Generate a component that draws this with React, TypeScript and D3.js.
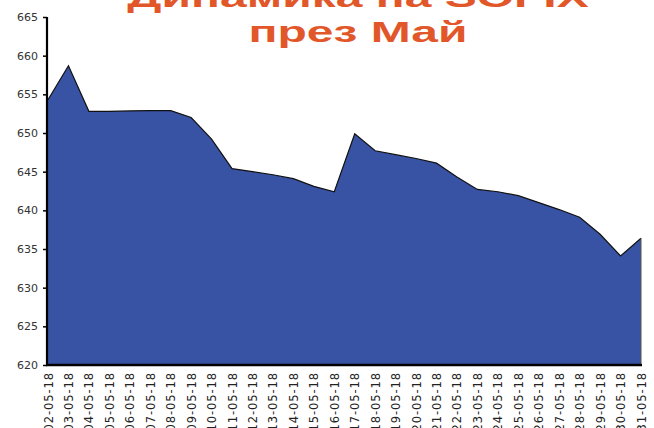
import React, { useEffect, useRef } from 'react';
import * as d3 from 'd3';

const dates = [
  '02-05-18', '03-05-18', '04-05-18', '05-05-18', '06-05-18', '07-05-18',
  '08-05-18', '09-05-18', '10-05-18', '11-05-18', '12-05-18', '13-05-18',
  '14-05-18', '15-05-18', '16-05-18', '17-05-18', '18-05-18', '19-05-18',
  '20-05-18', '21-05-18', '22-05-18', '23-05-18', '24-05-18', '25-05-18',
  '26-05-18', '27-05-18', '28-05-18', '29-05-18', '30-05-18', '31-05-18'
];

const sofix = [
  654.3, 658.7, 652.8, 652.8, 652.85, 652.9,
  652.9, 652.0, 649.2, 645.4, 645.0, 644.6,
  644.1, 643.1, 642.4, 649.9, 647.7, 647.2,
  646.7, 646.1, 644.3, 642.7, 642.4, 641.9,
  641.0, 640.1, 639.1, 636.9, 634.1, 636.4
];

const yTicks = [620, 625, 630, 635, 640, 645, 650, 655, 660, 665];

const titleLines = ['Динамика на SOFIX', 'през Май'];

export default function App() {
  const ref = useRef<SVGSVGElement>(null);

  useEffect(() => {
    const width = 654;
    const height = 428;
    const left = 48, right = 641, top = 17, bottom = 365;

    const svg = d3.select(ref.current);
    svg.selectAll('*').remove();
    svg.attr('width', width).attr('height', height);

    const x = d3.scalePoint<string>().domain(dates).range([left, right]).padding(0);
    const y = d3.scaleLinear().domain([620, 665]).range([bottom, top]);

    const rows = dates.map((d, i) => ({ d, v: sofix[i] }));

    // area
    const area = d3.area<{ d: string; v: number }>()
      .x(r => x(r.d) as number)
      .y0(y(620))
      .y1(r => y(r.v));

    svg.append('path')
      .datum(rows)
      .attr('d', area)
      .attr('fill', '#3953A4');

    const line = d3.line<{ d: string; v: number }>()
      .x(r => x(r.d) as number)
      .y(r => y(r.v));

    svg.append('path')
      .datum(rows)
      .attr('d', line)
      .attr('fill', 'none')
      .attr('stroke', '#111')
      .attr('stroke-width', 1.2);

    // right edge of the area
    svg.append('line')
      .attr('x1', x(dates[dates.length - 1]) as number)
      .attr('x2', x(dates[dates.length - 1]) as number)
      .attr('y1', y(sofix[sofix.length - 1]))
      .attr('y2', y(620))
      .attr('stroke', '#555')
      .attr('stroke-width', 1);

    // y axis
    const yAxis = d3.axisLeft(y).tickValues(yTicks).tickSize(4).tickPadding(5).tickFormat(d3.format('d'));
    const gy = svg.append('g')
      .attr('transform', 'translate(' + (left - 1) + ',0)')
      .call(yAxis);
    gy.select('.domain').attr('stroke', '#000').attr('stroke-width', 2.2).attr('d', 'M0,' + top + 'V' + (bottom + 1));
    gy.selectAll('.tick line').attr('stroke', '#000').attr('stroke-width', 1.5);
    gy.selectAll('.tick text')
      .attr('fill', '#333')
      .style('font-family', 'DejaVu Sans, sans-serif')
      .style('font-size', '11px');

    // x axis
    const xAxis = d3.axisBottom(x).tickSize(0).tickPadding(0);
    const gx = svg.append('g')
      .attr('transform', 'translate(0,' + bottom + ')')
      .call(xAxis);
    gx.select('.domain').attr('stroke', '#000').attr('stroke-width', 2.5).attr('d', 'M' + (left - 2) + ',0H' + (right + 1));
    gx.selectAll('.tick text')
      .attr('fill', '#222')
      .attr('transform', 'rotate(-90)')
      .attr('text-anchor', 'end')
      .attr('dy', '0.35em')
      .attr('x', -7)
      .attr('y', 0)
      .style('font-family', 'DejaVu Sans, sans-serif')
      .style('font-size', '11.5px')
      .style('letter-spacing', '0.9px');

    // title
    const title = svg.append('g').attr('transform', 'translate(358,0) scale(1.6,1)');
    title.selectAll('text')
      .data(titleLines)
      .enter()
      .append('text')
      .attr('x', 0)
      .attr('y', (_d, i) => 7 + i * 35)
      .attr('text-anchor', 'middle')
      .attr('fill', '#E2572A')
      .style('font-family', 'Liberation Sans, Arial, sans-serif')
      .style('font-weight', 'bold')
      .style('font-size', '30px')
      .text(d => d);
  }, []);

  return (
    <div style={{ position: 'absolute', left: 0, top: 0 }}>
      <svg ref={ref} style={{ display: 'block' }} />
    </div>
  );
}
